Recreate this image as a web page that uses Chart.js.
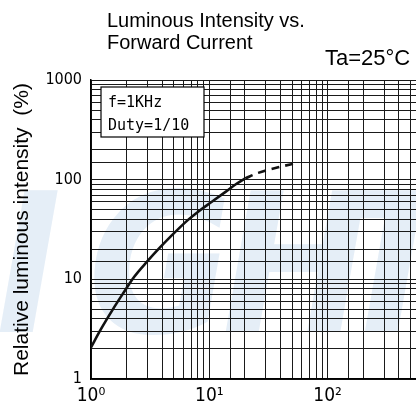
<!DOCTYPE html>
<html>
<head>
<meta charset="utf-8">
<title>Luminous Intensity vs. Forward Current</title>
<script src="https://cdn.jsdelivr.net/npm/chart.js@4.4.1/dist/chart.umd.min.js"></script>
<style>
    html, body { margin: 0; padding: 0; background: #fff; overflow: hidden; }
    canvas { display: block; }
</style>
</head>
<body>
<canvas id="chart" width="452" height="417"></canvas>
<script>
// Datos (corriente directa mA, intensidad relativa %)
const currentSolid = [1, 1.22, 1.53, 1.85, 2.32, 3.0, 3.76, 4.7, 6.5, 8.2, 10.5, 13.7, 17.1, 20.1];
const intensitySolid = [2.08, 3.2, 5.0, 7.1, 10.6, 15.2, 20.4, 26.8, 38.8, 48.5, 60, 75.5, 91.5, 103];
const currentDashed = [20.1, 25.9, 38.2, 56.1];
const intensityDashed = [103, 117, 133, 148];

const xTickLabels = { 1: '10\u2070', 10: '10\u00b9', 100: '10\u00b2' };
const yTickLabels = { 1: '1', 10: '10', 100: '100', 1000: '1000' };

const titleLines = ['Luminous Intensity vs.', 'Forward Current'];
const tempLabel = 'Ta=25\u00b0C';
const yTitle = 'Relative luminous intensity  (%)';
const noteLines = ['f=1KHz', 'Duty=1/10'];
const watermark = [['I', -4], ['G', 88], ['H', 222], ['T', 334]];

const sansFont = "'Liberation Sans', Arial, sans-serif";
const narrowFont = "'Liberation Sans Narrow', 'DejaVu Sans Condensed', sans-serif";
const monoFont = "'DejaVu Sans Mono', 'Liberation Mono', monospace";

function toPoints(xs, ys) {
    return xs.map((x, i) => ({ x: x, y: ys[i] }));
}

// Textos y marca de agua dibujados sobre el canvas
const decorPlugin = {
    id: 'decor',
    beforeDraw(chart) {
        const ctx = chart.ctx;
        ctx.save();
        ctx.fillStyle = '#e5eef7';
        ctx.font = 'italic bold 195px ' + narrowFont;
        ctx.textBaseline = 'alphabetic';
        watermark.forEach(([ch, x]) => ctx.fillText(ch, x, 332));
        ctx.restore();
    },
    afterDraw(chart) {
        const ctx = chart.ctx;
        const area = chart.chartArea;
        ctx.save();
        ctx.fillStyle = '#000';
        ctx.textBaseline = 'alphabetic';
        ctx.textAlign = 'left';
        ctx.font = '20px ' + sansFont;
        ctx.fillText(titleLines[0], 107, 27);
        ctx.fillText(titleLines[1], 107, 49);
        ctx.font = '22px ' + sansFont;
        ctx.fillText(tempLabel, 325, 65);

        // titulo del eje Y
        ctx.save();
        ctx.translate(28, 376);
        ctx.rotate(-Math.PI / 2);
        ctx.font = '21px ' + sansFont;
        ctx.fillText(yTitle, 0, 0);
        ctx.restore();

        // recuadro de condiciones
        const bx = area.left + 10, by = area.top + 7, bw = 103, bh = 50;
        ctx.fillStyle = '#fff';
        ctx.fillRect(bx, by, bw, bh);
        ctx.strokeStyle = '#000';
        ctx.lineWidth = 1.2;
        ctx.strokeRect(bx, by, bw, bh);
        ctx.fillStyle = '#000';
        ctx.font = '15px ' + monoFont;
        ctx.fillText(noteLines[0], bx + 7, by + 20);
        ctx.fillText(noteLines[1], bx + 7, by + 43);
        ctx.restore();
    }
};

const ctx = document.getElementById('chart').getContext('2d');
const chart = new Chart(ctx, {
    type: 'line',
    data: {
        datasets: [{
            data: toPoints(currentSolid, intensitySolid),
            borderColor: '#111',
            borderWidth: 2.6,
            pointRadius: 0,
            cubicInterpolationMode: 'monotone',
            fill: false
        }, {
            data: toPoints(currentDashed, intensityDashed),
            borderColor: '#111',
            borderWidth: 2.6,
            borderDash: [8, 6],
            pointRadius: 0,
            cubicInterpolationMode: 'monotone',
            fill: false
        }]
    },
    options: {
        responsive: false,
        animation: false,
        layout: { padding: { top: 80, right: 2, left: 0, bottom: 0 } },
        plugins: {
            legend: { display: false },
            tooltip: { enabled: false },
            title: { display: false }
        },
        scales: {
            x: {
                type: 'logarithmic',
                min: 1,
                max: 1000,
                grid: { color: '#1a1a1a', lineWidth: 1, drawTicks: false },
                border: { color: '#000', width: 1.5 },
                ticks: {
                    autoSkip: false,
                    maxRotation: 0,
                    padding: 6,
                    color: '#000',
                    font: { family: narrowFont, size: 19 },
                    callback: v => xTickLabels[v] || ''
                },
                afterFit: scale => { scale.height = 38; }
            },
            y: {
                type: 'logarithmic',
                min: 1,
                max: 1000,
                grid: { color: '#1a1a1a', lineWidth: 1, drawTicks: false },
                border: { color: '#000', width: 1.5 },
                ticks: {
                    autoSkip: false,
                    padding: 9,
                    color: '#000',
                    font: { family: narrowFont, size: 16 },
                    callback: v => yTickLabels[v] || ''
                },
                afterFit: scale => { scale.width = 91; }
            }
        }
    },
    plugins: [decorPlugin]
});
</script>
</body>
</html>
